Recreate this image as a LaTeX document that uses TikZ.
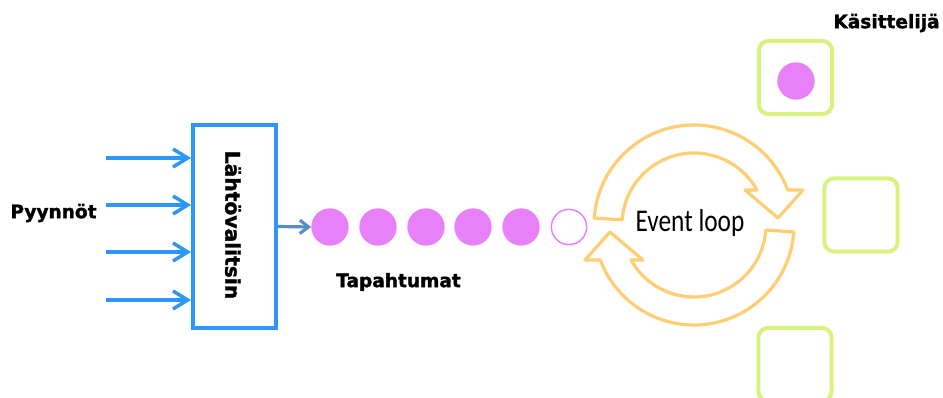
\documentclass[tikz,border=0pt]{standalone}
\usepackage{fontspec}
\newfontfamily\labfont[BoldFeatures={FakeBold=1.6}]{DejaVu Sans}
\newfontfamily\loopfont{Carlito}
\usetikzlibrary{arrows.meta}
\definecolor{selblue}{RGB}{45,150,250}
\definecolor{outblue}{RGB}{90,140,200}
\definecolor{evpink}{RGB}{232,128,250}
\definecolor{looporange}{RGB}{255,205,115}
\definecolor{hgreen}{RGB}{215,242,125}
\tikzset{
  lab/.style={font=\labfont\bfseries\fontsize{13.9}{16}\selectfont, inner sep=0pt},
  inarrow/.style={draw=selblue, line width=3pt, -{Straight Barb[length=11pt,width=13.5pt,line width=2.6pt]}},
  outarrow/.style={draw=outblue, line width=2.4pt, -{Straight Barb[length=6.5pt,width=10pt]}},
  ev/.style={circle, fill=evpink, minimum size=28pt, inner sep=0pt},
  evopen/.style={circle, draw=evpink, line width=1.1pt, minimum size=26.5pt, inner sep=0pt},
  hbox/.style={draw=hgreen, line width=3pt, rounded corners=7.5pt, minimum size=55pt, inner sep=0pt},
  loopband/.style={draw=looporange, line width=2.4pt, line join=round},
}
\begin{document}
\begin{tikzpicture}[x=0.75pt,y=-0.75pt]
\useasboundingbox (0,0) rectangle (943,398);
\clip (0,0) rectangle (943,398);
\fill[white] (0,0) rectangle (943,398);

% selector box
\node[draw=selblue, line width=3pt, minimum width=62.25pt, minimum height=152.25pt, inner sep=0pt] (sel) at (234.5,226.5) {};
\node[lab, rotate=-90, font=\labfont\bfseries\fontsize{15.2}{17}\selectfont] (sellab) at (233,225) {Lähtövalitsin};

% requests
\node[lab] (req) at (53.5,213) {Pyynnöt};
\coordinate (i1) at (106,158);
\coordinate (i2) at (106,205);
\coordinate (i3) at (106,252);
\coordinate (i4) at (106,300);
\foreach \c in {i1,i2,i3,i4} \draw[inarrow] (\c) -- (\c -| sel.west);

% events
\node[ev] (e1) at (330,227) {};
\node[ev] (e2) at (378,227) {};
\node[ev] (e3) at (426,227) {};
\node[ev] (e4) at (473,227) {};
\node[ev] (e5) at (521,227) {};
\node[evopen] (e6) at (569,227) {};
\draw[outarrow] (sel.east) -- (e1.west);
\node[lab] (evlab) at (398.5,282) {Tapahtumat};

% event loop
\begin{scope}[shift={(694,225)}]
  \draw[loopband] (184:100) arc[start angle=184, end angle=339.5, radius=100]
    -- (109,-35) -- (84,-7) -- (51,-35) -- (330.9:72)
    arc[start angle=330.9, end angle=184, radius=72] -- cycle;
  \begin{scope}[rotate=180]
  \draw[loopband] (184:100) arc[start angle=184, end angle=339.5, radius=100]
    -- (109,-35) -- (84,-7) -- (51,-35) -- (330.9:72)
    arc[start angle=330.9, end angle=184, radius=72] -- cycle;
  \end{scope}
\end{scope}
\node[font=\loopfont\fontsize{19}{22}\selectfont, yscale=1.25, inner sep=0pt] (loop) at (690,223) {Event loop};

% handlers
\node[lab] (hlab) at (886.5,23) {Käsittelijä};
\node[hbox] (h1) at (795.5,77.5) {};
\node[hbox] (h2) at (861,215) {};
\node[hbox] (h3) at (795,364.5) {};
\node[ev] (hdot) at (796,81) {};
\end{tikzpicture}
\end{document}
